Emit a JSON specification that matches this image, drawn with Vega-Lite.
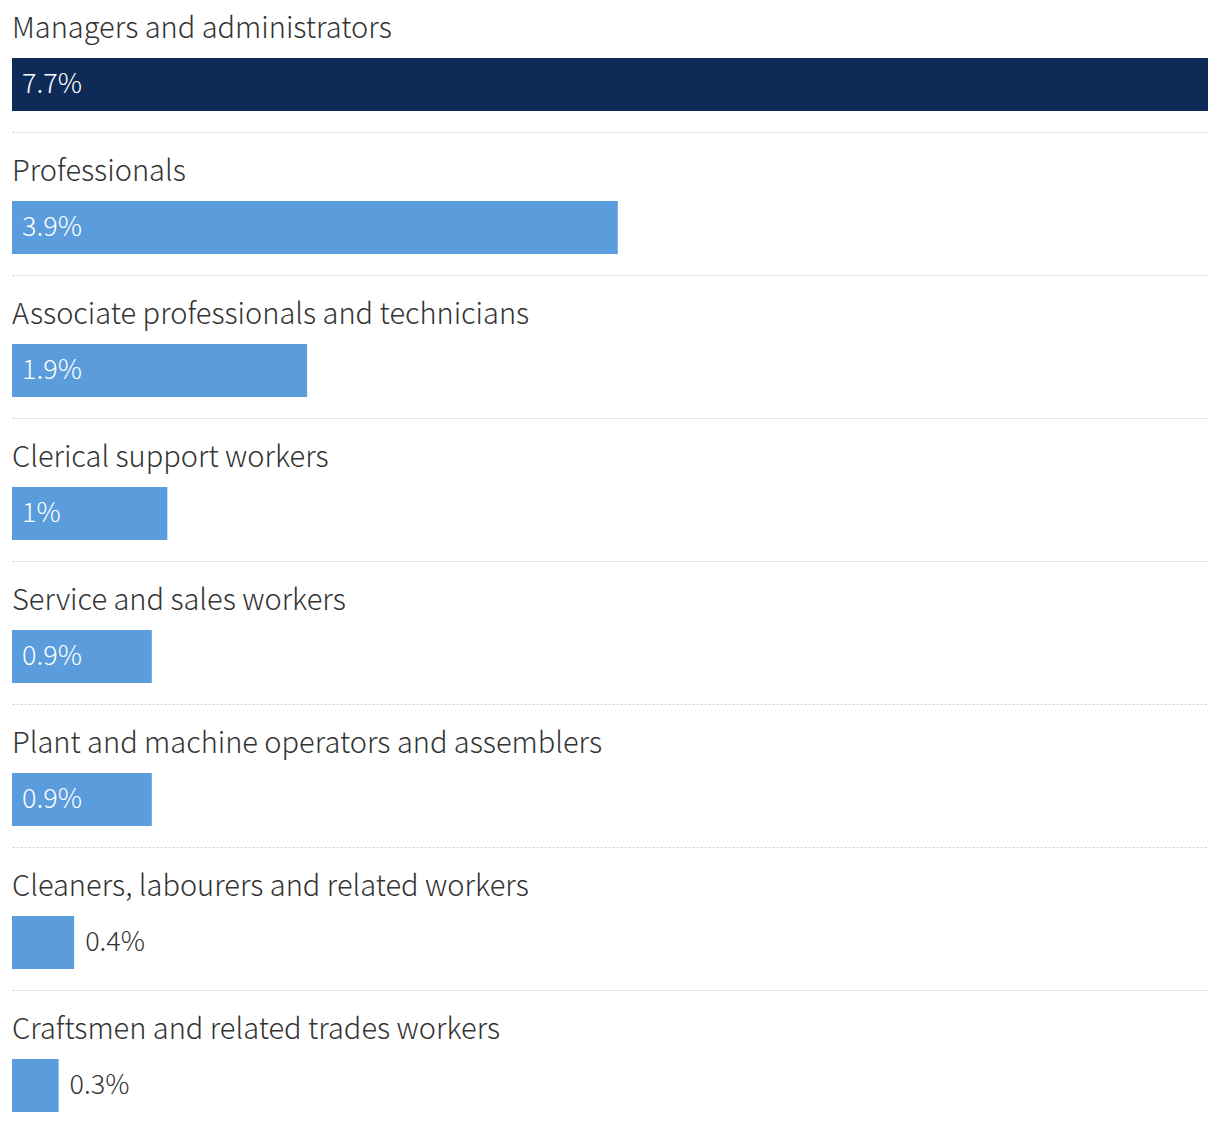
{
  "$schema": "https://vega.github.io/schema/vega-lite/v6.json",
  "width": 1196,
  "height": 1122,
  "autosize": {"type": "none"},
  "padding": {"left": 12, "right": 12, "top": 0, "bottom": 0},
  "background": "white",
  "config": {"view": {"stroke": null}, "font": "Noto Sans CJK KR"},
  "data": {"values": [
    {"category": "Managers and administrators", "value": 7.7},
    {"category": "Professionals", "value": 3.9},
    {"category": "Associate professionals and technicians", "value": 1.9},
    {"category": "Clerical support workers", "value": 1.0},
    {"category": "Service and sales workers", "value": 0.9},
    {"category": "Plant and machine operators and assemblers", "value": 0.9},
    {"category": "Cleaners, labourers and related workers", "value": 0.4},
    {"category": "Craftsmen and related trades workers", "value": 0.3}
  ]},
  "transform": [{"calculate": "datum.value + '%'", "as": "label"}],
  "encoding": {
    "y": {
      "field": "category", "type": "nominal", "sort": null,
      "scale": {"range": [-11, 1133], "paddingInner": 0, "paddingOuter": 0},
      "axis": {"grid": true, "gridDash": [2, 2], "gridColor": "#cccccc", "gridWidth": 1, "bandPosition": 1, "labels": false, "ticks": false, "domain": false, "title": null}
    }
  },
  "layer": [
    {
      "mark": {"type": "bar", "height": 53, "yOffset": 24},
      "encoding": {
        "x": {"field": "value", "type": "quantitative", "scale": {"domain": [0, 7.7], "nice": false}, "axis": null},
        "color": {"condition": {"test": "datum.category === 'Managers and administrators'", "value": "#0e2b57"}, "value": "#5a9cdc"}
      }
    },
    {
      "mark": {"type": "text", "align": "left", "baseline": "alphabetic", "fontSize": 29, "fontWeight": 300, "color": "#333333", "dy": 49},
      "encoding": {
        "y": {"field": "category", "type": "nominal", "sort": null, "bandPosition": 0},
        "x": {"datum": 0, "type": "quantitative"},
        "text": {"field": "category"}
      }
    },
    {
      "transform": [{"filter": "datum.value >= 0.9"}],
      "mark": {"type": "text", "align": "left", "baseline": "alphabetic", "fontSize": 27, "fontWeight": 300, "color": "white", "dx": 10, "dy": 104},
      "encoding": {
        "y": {"field": "category", "type": "nominal", "sort": null, "bandPosition": 0},
        "x": {"datum": 0, "type": "quantitative"},
        "text": {"field": "label"}
      }
    },
    {
      "transform": [{"filter": "datum.value < 0.9"}],
      "mark": {"type": "text", "align": "left", "baseline": "alphabetic", "fontSize": 27, "fontWeight": 300, "color": "#333333", "dx": 11, "dy": 104},
      "encoding": {
        "y": {"field": "category", "type": "nominal", "sort": null, "bandPosition": 0},
        "x": {"field": "value", "type": "quantitative"},
        "text": {"field": "label"}
      }
    }
  ]
}
